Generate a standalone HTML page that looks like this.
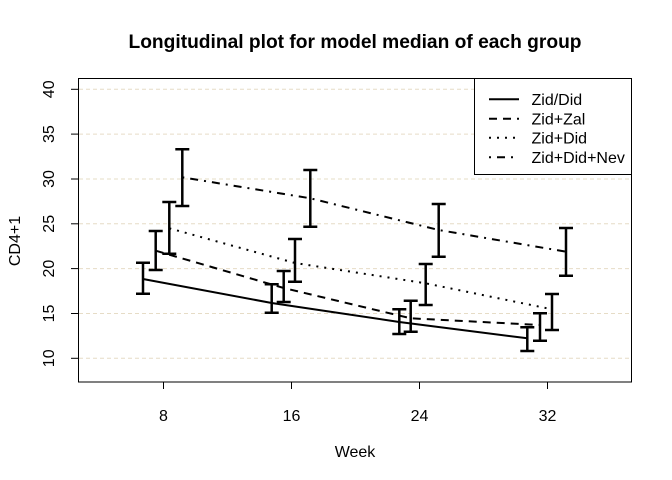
<!DOCTYPE html>
<html><head><style>body{margin:0;background:#fff}svg{display:block}</style></head><body>
<svg width="672" height="480" viewBox="0 0 672 480" xmlns="http://www.w3.org/2000/svg" font-family="Liberation Sans, sans-serif">
<rect width="672" height="480" fill="#fff"/>
<text x="355" y="48" text-anchor="middle" font-size="19.2" font-weight="bold">Longitudinal plot for model median of each group</text>
<g stroke="#e6dcc6" stroke-width="1" stroke-dasharray="4,3">
<line x1="79" x2="631" y1="89.3" y2="89.3"/><line x1="79" x2="631" y1="134.1" y2="134.1"/>
<line x1="79" x2="631" y1="179" y2="179"/><line x1="79" x2="631" y1="223.8" y2="223.8"/>
<line x1="79" x2="631" y1="268.6" y2="268.6"/><line x1="79" x2="631" y1="313.5" y2="313.5"/>
<line x1="79" x2="631" y1="358.3" y2="358.3"/>
</g>
<rect x="78.5" y="78.5" width="553" height="303.5" fill="none" stroke="#000"/>
<g stroke="#000">
<line x1="78.5" x2="71" y1="89.3" y2="89.3"/><line x1="78.5" x2="71" y1="134.1" y2="134.1"/><line x1="78.5" x2="71" y1="179" y2="179"/><line x1="78.5" x2="71" y1="223.8" y2="223.8"/><line x1="78.5" x2="71" y1="268.6" y2="268.6"/><line x1="78.5" x2="71" y1="313.5" y2="313.5"/><line x1="78.5" x2="71" y1="358.3" y2="358.3"/>
<line x1="163.5" x2="163.5" y1="382" y2="389"/><line x1="291.5" x2="291.5" y1="382" y2="389"/><line x1="419.5" x2="419.5" y1="382" y2="389"/><line x1="547.5" x2="547.5" y1="382" y2="389"/>
</g>
<g font-size="16" fill="#000" text-anchor="middle">
<text transform="translate(54,89.3) rotate(-90)">40</text><text transform="translate(54,134.1) rotate(-90)">35</text><text transform="translate(54,179) rotate(-90)">30</text><text transform="translate(54,223.8) rotate(-90)">25</text><text transform="translate(54,268.6) rotate(-90)">20</text><text transform="translate(54,313.5) rotate(-90)">15</text><text transform="translate(54,358.3) rotate(-90)">10</text>
<text x="163.5" y="421">8</text><text x="291.5" y="421">16</text><text x="419.5" y="421">24</text><text x="547.5" y="421">32</text>
<text x="355" y="457">Week</text>
<text transform="translate(20,241) rotate(-90)">CD4+1</text>
</g>
<g fill="none" stroke="#000" stroke-width="2">
<polyline points="143,279 271.7,303 399.3,322 527.3,338.3"/>
<polyline stroke-dasharray="8,6" points="155.7,250.7 283.7,288 410.7,318.3 540,325"/>
<polyline stroke-dasharray="2,6" points="169.3,228.3 295,263 425.7,283.3 552,309.3"/>
<polyline stroke-dasharray="2,6,8,6" points="182.3,177.3 310.3,198.3 438.7,230 566,251.7"/>
</g>
<g stroke="#000" stroke-width="2.5" fill="none">
<path d="M143,262.7V293.7M136,262.7H150M136,293.7H150"/>
<path d="M271.7,284.3V312.7M264.7,284.3H278.7M264.7,312.7H278.7"/>
<path d="M399.3,309.3V334M392.3,309.3H406.3M392.3,334H406.3"/>
<path d="M527.3,327.3V351M520.3,327.3H534.3M520.3,351H534.3"/>
<path d="M155.7,231V270M148.7,231H162.7M148.7,270H162.7"/>
<path d="M283.7,271V302M276.7,271H290.7M276.7,302H290.7"/>
<path d="M410.7,300.7V331.7M403.7,300.7H417.7M403.7,331.7H417.7"/>
<path d="M540,313.3V340.7M533,313.3H547M533,340.7H547"/>
<path d="M169.3,202V253.7M162.3,202H176.3M162.3,253.7H176.3"/>
<path d="M295,239V281.7M288,239H302M288,281.7H302"/>
<path d="M425.7,264V305M418.7,264H432.7M418.7,305H432.7"/>
<path d="M552,294V330M545,294H559M545,330H559"/>
<path d="M182.3,149.3V206M175.3,149.3H189.3M175.3,206H189.3"/>
<path d="M310.3,170V226.7M303.3,170H317.3M303.3,226.7H317.3"/>
<path d="M438.7,204V256.7M431.7,204H445.7M431.7,256.7H445.7"/>
<path d="M566,228V275.7M559,228H573M559,275.7H573"/>
</g>
<rect x="474.5" y="78.5" width="157" height="96" fill="#fff" stroke="#000"/>
<g stroke="#000" stroke-width="2">
<line x1="489" x2="519" y1="99.3" y2="99.3"/>
<line x1="489" x2="519" y1="118.7" y2="118.7" stroke-dasharray="8,6"/>
<line x1="489" x2="519" y1="137.7" y2="137.7" stroke-dasharray="2,6"/>
<line x1="489" x2="519" y1="157.3" y2="157.3" stroke-dasharray="2,6,8,6"/>
</g>
<g font-size="16" fill="#000">
<text x="531.5" y="105">Zid/Did</text><text x="531.5" y="124.3">Zid+Zal</text><text x="531.5" y="143.3">Zid+Did</text><text x="531.5" y="163">Zid+Did+Nev</text>
</g>
</svg>
</body></html>
